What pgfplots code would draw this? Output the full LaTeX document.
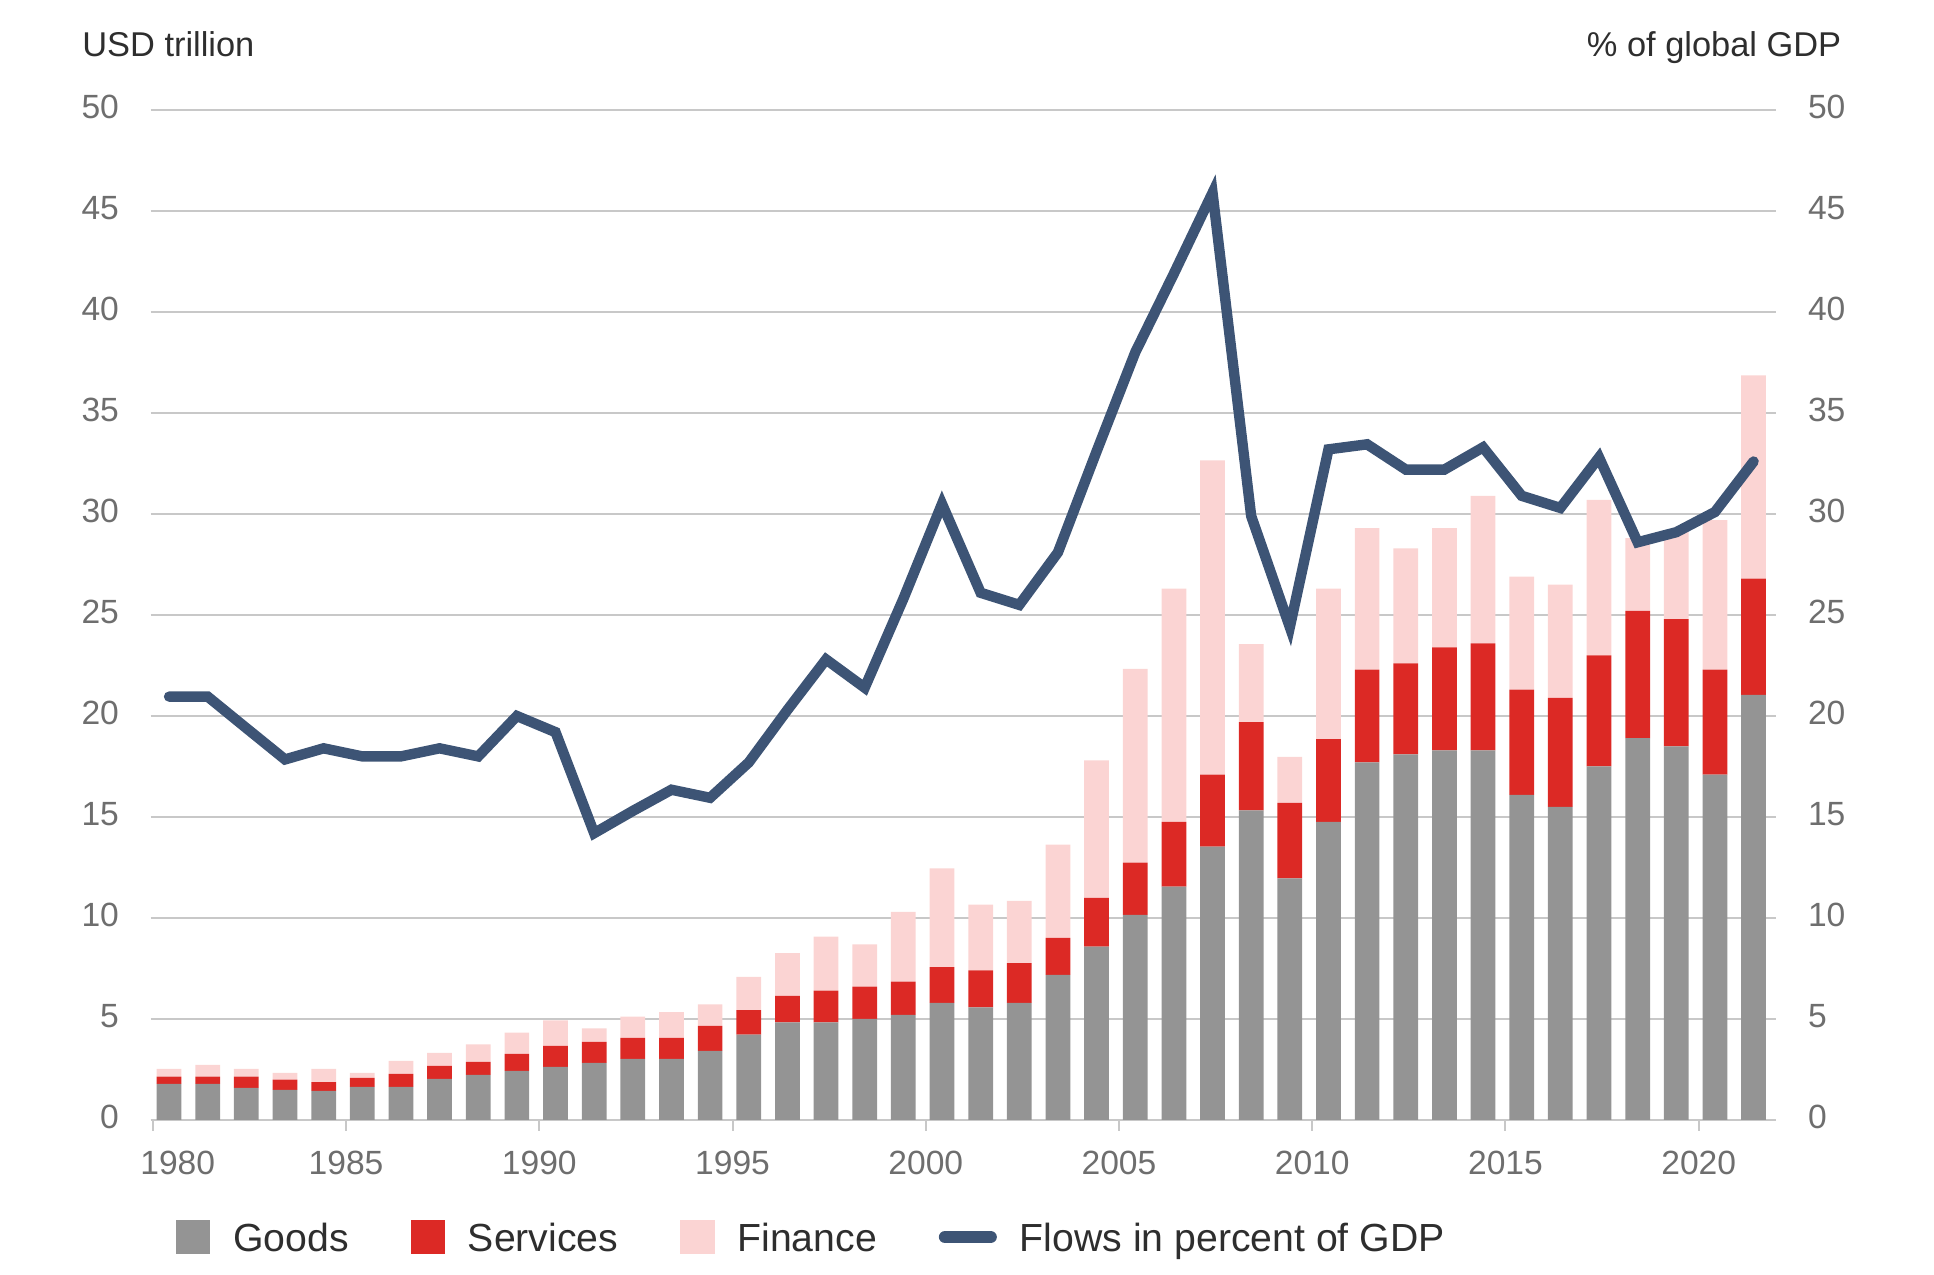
\documentclass[border=0pt]{standalone}
\usepackage{pgfplots}
\pgfplotsset{compat=1.18}
\usepackage{pgfplotstable}
\usepackage{fontspec}
\setmainfont{Liberation Sans}
\definecolor{goods}{HTML}{949494}
\definecolor{serv}{HTML}{DC2925}
\definecolor{fin}{HTML}{FBD4D3}
\definecolor{flow}{HTML}{3D5475}
\definecolor{gridc}{HTML}{C8C8C8}
\definecolor{tickc}{HTML}{6E6E6E}
\definecolor{txt}{HTML}{2E2E2E}
\pgfplotstableread{
year goods serv fin flow
1980 1.79 0.36 0.38 20.96
1981 1.79 0.36 0.58 20.96
1982 1.59 0.56 0.38 19.40
1983 1.49 0.51 0.33 17.85
1984 1.44 0.44 0.65 18.40
1985 1.64 0.44 0.25 18.00
1986 1.64 0.64 0.65 18.00
1987 2.03 0.65 0.64 18.40
1988 2.23 0.65 0.86 18.00
1989 2.43 0.84 1.06 20.00
1990 2.63 1.04 1.26 19.20
1991 2.83 1.04 0.66 14.20
1992 3.02 1.05 1.05 15.30
1993 3.02 1.05 1.27 16.35
1994 3.42 1.24 1.06 15.95
1995 4.23 1.21 1.64 17.70
1996 4.83 1.32 2.11 20.30
1997 4.83 1.57 2.68 22.80
1998 5.00 1.60 2.10 21.40
1999 5.20 1.65 3.45 25.80
2000 5.80 1.77 4.89 30.50
2001 5.58 1.83 3.25 26.10
2002 5.80 1.96 3.09 25.50
2003 7.19 1.83 4.61 28.10
2004 8.58 2.42 6.80 33.10
2005 10.16 2.58 9.59 38.00
2006 11.55 3.21 11.54 41.90
2007 13.53 3.57 15.55 45.90
2008 15.33 4.37 3.86 29.90
2009 11.96 3.74 2.28 24.40
2010 14.76 4.10 7.44 33.20
2011 17.70 4.60 7.00 33.45
2012 18.10 4.50 5.70 32.20
2013 18.30 5.10 5.90 32.20
2014 18.30 5.30 7.30 33.30
2015 16.10 5.20 5.60 30.90
2016 15.50 5.40 5.60 30.30
2017 17.50 5.50 7.70 32.80
2018 18.90 6.30 3.60 28.60
2019 18.50 6.30 4.30 29.10
2020 17.10 5.20 7.40 30.10
2021 21.05 5.75 10.06 32.60
}\data
\begin{document}
\begin{tikzpicture}
\path[use as bounding box] (0,0) rectangle (967bp,637.5bp);
\begin{axis}[
  at={(75.25bp,77.5bp)}, anchor=south west,
  scale only axis, width=812.75bp, height=505bp,
  xmin=1979.52, xmax=2021.58, ymin=0, ymax=50,
  ybar stacked, bar width=0.64,
  axis x line*=bottom, axis y line*=left,
  x axis line style={draw=gridc, line width=1bp, -},
  y axis line style={draw=none},
  ytick={0,5,...,50},
  ymajorgrids, grid style={draw=gridc, line width=1bp},
  ytick style={draw=none},
  xtick={1984.58,1989.58,1994.58,1999.58,2004.58,2009.58,2014.58,2019.58},
  xticklabels={1985,1990,1995,2000,2005,2010,2015,2020},
  extra x ticks={1979.58}, extra x tick labels={1980},
  extra x tick style={xticklabel style={xshift=12.45bp}},
  xtick style={draw=gridc, line width=1bp},
  tick align=outside, major tick length=5.3bp,
  /pgf/number format/assume math mode=true,
  xticklabel style={anchor=north, inner sep=0pt, yshift=-10.05bp, text=tickc, font=\fontsize{16.8bp}{18bp}\selectfont},
  yticklabel style={anchor=east, inner sep=0pt, xshift=-10.3bp, yshift=1.5bp, text=tickc, font=\fontsize{16.8bp}{18bp}\selectfont},
]
\addplot[fill=goods, draw=none] table[x=year, y=goods]{\data};
\addplot[fill=serv, draw=none] table[x=year, y=serv]{\data};
\addplot[fill=fin, draw=none] table[x=year, y=fin]{\data};
\end{axis}
\begin{axis}[
  at={(75.25bp,77.5bp)}, anchor=south west,
  scale only axis, width=812.75bp, height=505bp,
  xmin=1979.52, xmax=2021.58, ymin=0, ymax=50,
  hide x axis,
  axis y line*=right,
  y axis line style={draw=none},
  ytick={0,5,...,50},
  ytick style={draw=none},
  /pgf/number format/assume math mode=true,
  yticklabel style={anchor=west, inner sep=0pt, xshift=15.8bp, yshift=1.5bp, text=tickc, font=\fontsize{16.8bp}{18bp}\selectfont},
  legend columns=4,
  legend style={draw=none, fill=none, at={(axis description cs:0.01569,-0.1159)}, anchor=west,
    inner sep=0pt, outer sep=0pt, font=\fontsize{19.6bp}{22bp}\selectfont, text=txt,
    column sep=11.5bp, /tikz/every even column/.append style={column sep=31bp, yshift=6bp},
    nodes={inner sep=0pt}},
]
\addlegendimage{legend image code/.code={\fill[goods] (0bp,-1.7bp) rectangle (16.7bp,15bp);}}
\addlegendentry{Goods}
\addlegendimage{legend image code/.code={\fill[serv] (0bp,-1.7bp) rectangle (16.7bp,15bp);}}
\addlegendentry{Services}
\addlegendimage{legend image code/.code={\fill[fin] (0bp,-1.7bp) rectangle (16.7bp,15bp);}}
\addlegendentry{Finance}
\addplot[flow, line width=5.2bp, line join=miter, line cap=round, mark=none,
  legend image code/.code={\path[draw=none, fill=none] (0bp,-1.7bp) rectangle (29bp,15bp);\draw[flow, line width=6.3bp, line cap=round] (3.15bp,6.65bp) -- (25.85bp,6.65bp);}]
  table[x=year, y=flow]{\data};
\addlegendentry{Flows in percent of GDP}
\end{axis}
\node[anchor=base west, inner sep=0pt, text=txt, font=\fontsize{17.2bp}{19bp}\selectfont] at (41bp,609bp) {USD trillion};
\node[anchor=base east, inner sep=0pt, text=txt, font=\fontsize{17.2bp}{19bp}\selectfont] at (920.8bp,609bp) {\% of global GDP};
\end{tikzpicture}
\end{document}
